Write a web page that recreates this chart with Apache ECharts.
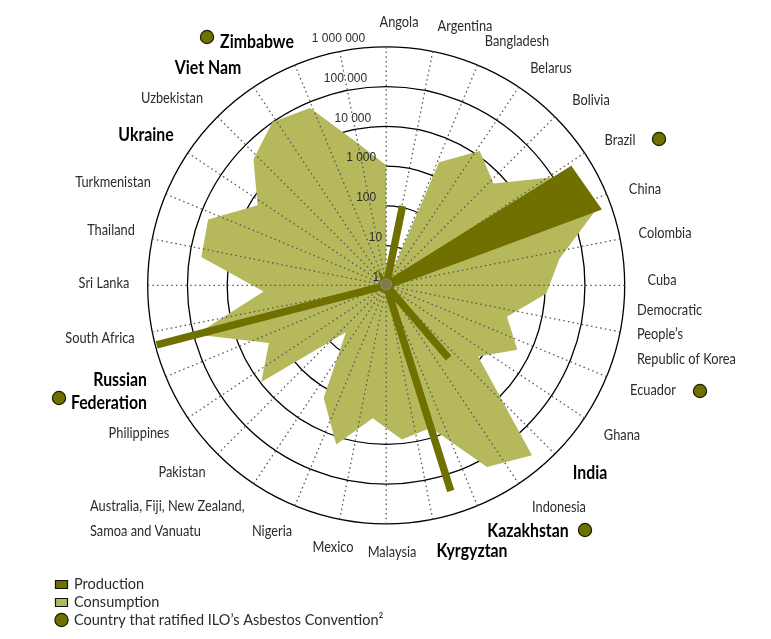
<!DOCTYPE html>
<html>
<head>
<meta charset="utf-8">
<title>Asbestos production and consumption</title>
<script src="https://cdn.jsdelivr.net/npm/echarts@6/dist/echarts.min.js"></script>
<style>
  html, body { margin: 0; padding: 0; background: #fff; }
  #chart { width: 771px; height: 639px; }
</style>
</head>
<body>
<div id="chart"></div>
<script>
// data, tonnes per year
const countries = ['Angola', 'Argentina', 'Bangladesh', 'Belarus', 'Bolivia', 'Brazil', 'China', 'Colombia',
  'Cuba', 'Democratic\nPeople\u2019s\nRepublic of Korea', 'Ecuador', 'Ghana', 'India', 'Indonesia', 'Kazakhstan',
  'Kyrgyztan', 'Malaysia', 'Mexico', 'Nigeria', 'Australia, Fiji, New Zealand,\nSamoa and Vanuatu', 'Pakistan',
  'Philippines', 'Russian\nFederation', 'South Africa', 'Sri Lanka', 'Thailand', 'Turkmenistan', 'Ukraine',
  'Uzbekistan', 'Viet Nam', 'Zimbabwe'];
const consumption = [1060, 1, 2360, 13100, 5300, 150000, 490000, 25700, 10800, 1375, 4730, 840, 427000, 168000,
  5700, 7890, 2300, 15700, 1740, 36, 9400, 1940, 87000, 1225, 50800, 59800, 6500, 40500, 102000, 71600, 4700];
const production = [1, 110, 1, 1, 1, 285000, 427000, 1, 1, 1, 1, 1, 257, 1, 263000, 1, 1, 1, 1, 1, 1, 1, 925000,
  1, 1, 1, 1, 1, 1, 1, 1];
const ringLabels = ['1', '10', '100', '1 000', '10 000', '100 000', '1 000 000'];
const boldCountries = ['India', 'Kazakhstan', 'Kyrgyztan', 'Russian\nFederation', 'Ukraine', 'Viet Nam', 'Zimbabwe'];

// layout, kept apart from the data
const CENTER = [386.2, 285.4];
const RADIUS = 238.5;
const ringLabelShift = [3, 0, 6, 6, 11, 15, 17];
const labelBoxes = [
  [399, 22, 'center', 0], [465, 26, 'center', 0], [517, 41, 'center', 0], [551, 68, 'center', 0],
  [591, 100, 'center', 0], [620, 140, 'center', 0], [645, 189, 'center', 0], [665, 233, 'center', 0],
  [662, 280, 'center', 0], [637, 334, 'left', 24.5], [653, 390, 'center', 0], [622, 435, 'center', 0],
  [590, 473, 'center', 0], [559, 507, 'center', 0], [528, 531, 'center', 0], [472, 551, 'center', 0],
  [392, 552, 'center', 0], [333, 547, 'center', 0], [272, 531, 'center', 0], [90, 518.5, 'left', 25],
  [182, 472, 'center', 0], [139, 433, 'center', 0], [147, 391.5, 'right', 23], [100, 338, 'center', 0],
  [104, 283, 'center', 0], [111, 230, 'center', 0], [113, 182, 'center', 0], [146, 135, 'center', 0],
  [172, 98, 'center', 0], [208, 68, 'center', 0], [257, 42, 'center', 0]
];
const ratifiedDots = [[659, 139], [700, 391], [585, 530], [59, 398], [207, 37]];
const COLOR_PRODUCTION = '#6f7000';
const COLOR_CONSUMPTION = '#b5b95c';
const LABEL_FONT = 'Lato, sans-serif';

function countryLabel(name, i) {
  const box = labelBoxes[i];
  const bold = boldCountries.indexOf(name) >= 0;
  return {
    type: 'text',
    x: box[0],
    y: box[1],
    z: 20,
    scaleX: bold ? 0.88 : 0.8,
    style: {
      text: name,
      align: box[2],
      verticalAlign: 'middle',
      lineHeight: box[3] || 18,
      fill: bold ? '#000' : '#2b2b2b',
      font: (bold ? 'bold 18px ' : '16px ') + LABEL_FONT
    }
  };
}

function dot(pos) {
  return {
    type: 'circle',
    shape: { cx: pos[0], cy: pos[1], r: 6.6 },
    z: 20,
    style: { fill: COLOR_PRODUCTION, stroke: '#1c1c00', lineWidth: 1.2 }
  };
}

function legendRow(y, text) {
  return {
    type: 'text',
    x: 74,
    y: y,
    z: 20,
    style: { text: text, verticalAlign: 'middle', fill: '#2b2b2b', font: '14.5px Lato, sans-serif' }
  };
}

function legendSwatch(y, color) {
  return {
    type: 'rect',
    shape: { x: 55.5, y: y - 4, width: 12, height: 8 },
    z: 20,
    style: { fill: color, stroke: '#111', lineWidth: 1.2 }
  };
}

// one angle step per country, the last point closes the loop on the first
function closedLoop(values) {
  return values.concat(values[0]).map(function(v, i) { return [v, i]; });
}

const chart = echarts.init(document.getElementById('chart'), null, { renderer: 'canvas' });

// the marks sit on 31 steps, the dotted spokes on 32: the source draws them that way
const option = {
  animation: false,
  backgroundColor: '#fff',
  polar: [
    { center: CENTER, radius: RADIUS },
    { center: CENTER, radius: RADIUS }
  ],
  angleAxis: [
    {
      polarIndex: 0,
      type: 'value',
      min: 0,
      max: countries.length,
      interval: 1,
      startAngle: 90,
      axisLine: { show: false },
      axisTick: { show: false },
      axisLabel: { show: false },
      splitLine: { show: false }
    },
    {
      polarIndex: 1,
      type: 'value',
      min: 0,
      max: 360,
      interval: 11.25,
      startAngle: 90,
      z: 3,
      axisLine: { show: false },
      axisTick: { show: false },
      axisLabel: { show: false },
      splitLine: { show: true, lineStyle: { color: '#555', width: 1.3, type: [1.5, 3.2] } }
    }
  ],
  radiusAxis: [
    {
      polarIndex: 0,
      type: 'log',
      logBase: 10,
      min: 1,
      max: 1000000,
      z: 1,
      axisLine: { show: false },
      axisTick: { show: false },
      axisLabel: { show: false },
      splitLine: { show: true, lineStyle: { color: '#000', width: 1.3, type: 'solid' } }
    },
    {
      polarIndex: 1,
      type: 'log',
      logBase: 10,
      min: 1,
      max: 1000000,
      z: 10,
      axisLine: { show: false },
      axisTick: { show: false },
      splitLine: { show: false },
      axisLabel: {
        show: true,
        margin: 4,
        align: 'right',
        formatter: function(value) {
          return '{r' + Math.round(Math.log10(value)) + '|' + ringLabels[Math.round(Math.log10(value))] + '}';
        },
        rich: Object.fromEntries(ringLabels.map(function(label, i) {
          return ['r' + i, {
            font: '13.5px "DejaVu Sans Condensed", sans-serif',
            color: '#2b2b2b',
            padding: [0, ringLabelShift[i], 16, 0]
          }];
        }))
      }
    }
  ],
  series: [
    {
      name: 'Consumption',
      type: 'line',
      coordinateSystem: 'polar',
      polarIndex: 0,
      z: 2,
      clip: false,
      symbol: 'none',
      data: closedLoop(consumption),
      lineStyle: { width: 0 },
      areaStyle: { color: COLOR_CONSUMPTION, opacity: 1 }
    },
    {
      name: 'Production',
      type: 'line',
      coordinateSystem: 'polar',
      polarIndex: 0,
      z: 4,
      clip: false,
      symbol: 'none',
      data: closedLoop(production),
      lineStyle: { width: 7.5, color: COLOR_PRODUCTION, join: 'miter', cap: 'butt' },
      areaStyle: { color: COLOR_PRODUCTION, opacity: 1 }
    }
  ],
  graphic: {
    elements: countries.map(countryLabel)
      .concat(ratifiedDots.map(dot))
      .concat([
        {
          type: 'circle',
          shape: { cx: CENTER[0], cy: CENTER[1] - 1, r: 5.5 },
          z: 20,
          style: { fill: 'rgba(125,125,95,0.85)', stroke: 'rgba(150,150,110,0.8)', lineWidth: 1 }
        },
        legendSwatch(584.5, COLOR_PRODUCTION),
        legendSwatch(602.5, COLOR_CONSUMPTION),
        dot([61.5, 620]),
        legendRow(584, 'Production'),
        legendRow(602, 'Consumption'),
        legendRow(620, 'Country that ratified ILO\u2019s Asbestos Convention\u00b2')
      ])
  }
};

chart.setOption(option);
</script>
</body>
</html>
